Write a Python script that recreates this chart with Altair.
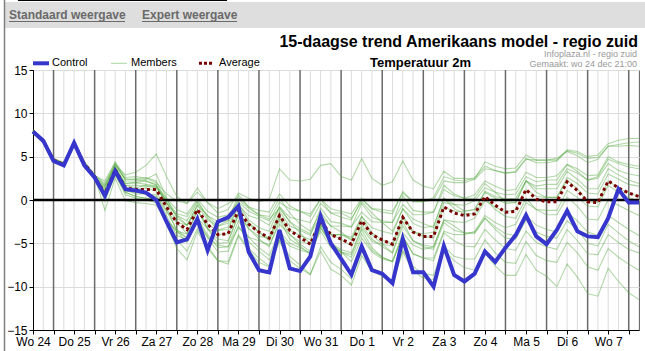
import altair as alt
import pandas as pd

FONT = "Liberation Sans"

DAY_LABELS = ["Wo 24", "Do 25", "Vr 26", "Za 27", "Zo 28", "Ma 29", "Di 30", "Wo 31",
              "Do 1", "Vr 2", "Za 3", "Zo 4", "Ma 5", "Di 6", "Wo 7"]
Y_TICKS = [-15, -10, -5, 0, 5, 10, 15]

CONTROL = [
    7.9, 6.85, 4.5, 4.0, 6.6, 4.0, 2.6, 0.5, 3.35, 1.25, 1.1, 0.85,
    0.0, -2.5, -4.9, -4.55, -2.2, -5.8, -2.5, -2.0, -0.7, -6.0, -8.1, -8.35,
    -3.45, -7.9, -8.2, -6.5, -1.85, -5.0, -6.8, -8.6, -5.35, -8.1, -8.5, -9.6,
    -4.5, -8.35, -8.35, -10.0, -5.3, -8.65, -9.4, -8.5, -5.95, -7.15, -5.5, -4.05,
    -1.75, -4.2, -5.1, -3.45, -1.25, -3.6, -4.2, -4.3, -2.1, 1.25, -0.3, -0.3,
]

AVERAGE = [
    7.9, 6.8, 4.6, 4.1, 6.5, 4.2, 2.7, 0.7, 3.5, 1.4, 1.2, 1.2,
    1.2, -0.8, -2.6, -3.4, -1.1, -2.8, -4.0, -3.9, -1.2, -2.8, -3.7, -4.4,
    -1.8, -3.5, -4.3, -5.1, -2.4, -4.0, -4.5, -5.1, -2.4, -4.0, -4.6, -5.1,
    -2.0, -3.7, -4.2, -4.2, -0.8, -1.5, -1.8, -1.6, 0.4, -0.6, -1.4, -1.3,
    1.2, 0.1, -0.2, -0.2, 2.1, 1.1, -0.2, -0.3, 2.2, 1.4, 0.8, 0.4,
]

MEMBER_01 = [
    8.0, 6.9, 4.7, 4.2, 6.6, 4.3, 2.8, 1.7, 4.1, 2.9, 3.2, 4.0,
    5.3, 2.7, 0.4, -0.4, 1.4, -0.3, -1.5, -1.1, 0.8, 0.2, -0.2, 0.1,
    3.6, 2.3, 2.2, 2.4, 4.0, 4.2, 2.7, 2.3, 4.8, 2.5, 1.7, 2.1,
    4.5, 2.3, 1.6, 1.3, 3.3, 2.5, 2.5, 2.4, 4.4, 3.9, 3.6, 3.7,
    5.2, 4.6, 4.6, 4.6, 5.8, 5.6, 5.0, 5.2, 6.5, 6.9, 7.1, 7.1,
]
MEMBER_02 = [
    7.8, 6.7, 4.5, 4.0, 6.4, 4.1, 2.6, 1.2, 3.8, 1.9, 2.0, 1.8,
    1.6, 0.2, -1.1, -1.6, 0.1, -1.3, -2.0, -1.7, -0.2, -1.3, -1.9, -2.4,
    -0.3, -1.0, -1.3, -1.6, 0.1, -1.0, -1.3, -1.6, 0.2, -1.0, -1.1, -1.3,
    0.8, -0.2, -0.2, 0.0, 2.2, 2.0, 2.0, 2.4, 3.6, 3.4, 3.1, 3.3,
    4.8, 4.3, 4.3, 4.5, 5.7, 5.4, 4.8, 4.9, 6.2, 6.2, 6.3, 6.2,
]
MEMBER_03 = [
    7.9, 6.9, 4.6, 4.0, 6.6, 4.2, 2.8, 2.2, 4.4, 2.6, 2.7, 2.5,
    2.0, 0.7, -0.1, -0.4, 0.9, -0.3, -1.0, -0.4, 0.3, -0.8, -1.7, -2.2,
    -1.0, -2.5, -3.3, -3.9, -1.9, -3.0, -3.0, -3.1, -1.4, -2.5, -2.6, -2.6,
    -0.5, -1.7, -1.7, -1.4, 1.2, 0.5, 0.2, 0.6, 2.2, 1.6, 1.1, 1.2,
    3.2, 2.6, 2.6, 2.8, 4.1, 3.3, 2.3, 2.5, 4.2, 3.4, 3.0, 2.8,
]
MEMBER_04 = [
    8.1, 7.0, 4.8, 4.3, 6.7, 4.4, 2.9, 0.4, 3.0, 0.9, 0.4, 0.2,
    0.0, -2.3, -3.6, -3.9, -1.3, -2.8, -3.5, -3.1, -0.6, -1.8, -2.2, -2.9,
    -0.8, -2.0, -2.3, -2.6, -0.4, -1.5, -1.5, -2.1, -0.2, -1.5, -2.6, -3.6,
    -1.0, -2.2, -2.7, -3.2, 0.2, -0.5, -1.3, -1.1, 1.0, 0.4, 0.1, 0.2,
    2.2, 1.6, 1.8, 1.8, 3.6, 3.1, 2.3, 2.7, 4.7, 4.2, 3.8, 3.6,
]
MEMBER_05 = [
    7.7, 6.6, 4.4, 3.9, 6.3, 4.0, 2.5, 1.5, 4.0, 2.4, 2.4, 2.6,
    2.2, -0.3, -2.6, -3.9, -1.1, -3.3, -5.0, -4.9, -1.7, -3.3, -4.5, -5.4,
    -2.3, -4.5, -5.3, -6.3, -3.2, -5.0, -5.7, -6.1, -3.2, -4.8, -5.1, -5.3,
    -2.0, -3.7, -3.9, -3.7, -0.3, -0.5, -0.6, -0.1, 1.4, 0.9, 0.6, 0.7,
    2.7, 2.1, 2.3, 2.3, 4.1, 3.6, 2.8, 2.9, 5.0, 4.4, 4.1, 3.9,
]
MEMBER_06 = [
    8.0, 6.9, 4.7, 4.2, 6.6, 4.3, 2.8, -0.1, 2.9, 0.6, 0.2, 0.0,
    -0.3, -2.3, -4.6, -5.9, -3.3, -5.3, -7.0, -7.1, -4.0, -5.6, -6.7, -7.6,
    -4.6, -6.5, -7.5, -8.6, -5.4, -7.2, -8.0, -9.1, -5.9, -7.8, -8.6, -9.3,
    -5.8, -7.7, -8.5, -8.7, -5.3, -6.5, -6.8, -6.8, -4.6, -6.1, -7.2, -7.3,
    -4.8, -6.4, -7.0, -7.2, -4.9, -6.1, -7.7, -8.1, -5.6, -6.6, -7.4, -8.1,
]
MEMBER_07 = [
    7.9, 6.8, 4.6, 4.1, 6.5, 4.2, 2.7, -1.2, 2.5, -0.1, -0.3, -0.4,
    -0.6, -2.3, -3.6, -4.4, -2.6, -4.3, -5.2, -5.4, -3.2, -4.3, -4.7, -5.2,
    -2.8, -4.0, -4.8, -5.1, -2.9, -4.0, -4.0, -4.6, -2.4, -4.0, -5.1, -6.1,
    -3.0, -4.7, -5.4, -5.7, -2.6, -3.5, -3.8, -3.8, -2.1, -3.1, -3.9, -4.1,
    -1.8, -2.9, -3.4, -3.7, -1.4, -2.4, -3.7, -4.1, -1.8, -2.6, -3.4, -4.1,
]
MEMBER_08 = [
    7.8, 6.7, 4.5, 4.0, 6.4, 4.1, 2.6, 1.0, 3.7, 1.7, 1.7, 1.6,
    1.4, 0.0, -1.6, -1.9, -0.1, -2.0, -3.5, -3.4, -0.7, -2.6, -3.7, -4.7,
    -2.0, -4.0, -5.1, -5.9, -3.2, -5.0, -6.0, -6.6, -3.9, -5.8, -6.6, -7.1,
    -4.2, -6.2, -6.7, -7.0, -3.8, -4.7, -5.3, -5.4, -3.4, -4.6, -5.6, -5.8,
    -3.6, -4.9, -5.4, -5.7, -3.4, -4.7, -6.2, -6.3, -4.0, -4.9, -5.7, -6.1,
]
MEMBER_09 = [
    8.0, 6.9, 4.7, 4.2, 6.6, 4.3, 2.8, 0.2, 3.1, 0.9, 0.4, 0.2,
    0.2, -2.8, -5.6, -6.9, -3.6, -5.6, -7.0, -7.4, -4.2, -5.8, -7.2, -7.7,
    -4.8, -7.0, -7.9, -8.6, -5.9, -8.0, -8.7, -9.8, -6.4, -8.2, -8.8, -9.5,
    -6.0, -8.2, -9.0, -9.2, -5.8, -7.0, -7.8, -8.1, -6.1, -7.6, -8.7, -8.7,
    -6.3, -8.1, -8.8, -10.0, -7.4, -8.9, -10.8, -11.1, -7.9, -9.4, -10.7, -11.5,
]
MEMBER_10 = [
    7.9, 6.8, 4.6, 4.1, 6.5, 4.2, 2.7, 1.3, 3.9, 1.7, 1.4, 1.7,
    1.5, -0.3, -1.8, -2.4, -0.3, -1.8, -2.5, -2.4, 0.1, -1.0, -1.7, -1.9,
    0.2, -1.5, -2.8, -3.6, -1.4, -3.0, -3.7, -4.6, -1.9, -3.8, -4.6, -5.1,
    -1.8, -3.7, -4.2, -4.4, -0.8, -1.3, -1.3, -1.1, 0.9, 0.2, -0.4, -0.3,
    2.2, 1.3, 1.3, 1.3, 3.3, 2.4, 1.3, 1.3, 3.6, 2.9, 2.3, 1.9,
]
MEMBER_11 = [
    7.7, 6.6, 4.4, 3.9, 6.3, 4.0, 2.5, 0.3, 3.2, 1.2, 1.2, 1.4,
    1.0, -1.3, -3.4, -4.4, -2.1, -4.0, -5.5, -5.4, -2.4, -4.3, -5.5, -6.4,
    -3.6, -5.0, -5.5, -6.1, -3.6, -5.5, -6.0, -6.3, -3.4, -5.5, -6.6, -7.1,
    -4.2, -6.2, -6.7, -6.7, -3.6, -4.0, -4.0, -3.6, -1.8, -2.6, -3.2, -2.8,
    -0.3, -1.1, -1.2, -1.2, 1.1, 0.3, -0.7, -0.8, 1.7, 0.9, 0.3, -0.1,
]
MEMBER_12 = [
    8.1, 7.0, 4.8, 4.3, 6.7, 4.4, 2.9, 1.9, 4.3, 2.2, 2.2, 2.4,
    3.0, 0.2, -2.1, -2.9, -1.1, -3.3, -4.5, -4.7, -1.7, -2.8, -3.7, -4.4,
    -1.3, -3.0, -3.5, -4.1, -0.9, -2.5, -2.7, -3.1, -0.4, -2.0, -2.4, -2.6,
    0.5, -1.2, -1.4, -1.4, 1.7, 0.7, 0.2, 0.2, 1.9, 0.9, -0.2, -0.3,
    2.2, 0.9, 0.3, 0.3, 2.3, 1.3, -0.2, -0.3, 2.2, 1.4, 0.8, 0.4,
]
MEMBER_13 = [
    7.9, 6.8, 4.6, 4.1, 6.5, 4.2, 2.7, 0.1, 3.0, 1.0, 0.9, 0.7,
    0.4, -1.3, -2.6, -2.9, -0.6, -1.8, -3.0, -2.7, -0.4, -2.3, -3.2, -3.6,
    -0.8, -2.5, -3.8, -5.1, -2.9, -5.0, -6.0, -7.1, -4.4, -6.0, -6.8, -7.1,
    -3.8, -5.2, -5.7, -5.4, -2.3, -2.5, -2.6, -2.1, -0.1, -0.8, -1.4, -1.1,
    1.2, 0.4, 0.3, 0.3, 2.6, 1.9, 0.8, 0.7, 3.0, 2.4, 1.8, 1.6,
]
MEMBER_14 = [
    7.8, 6.7, 4.5, 4.0, 6.4, 4.1, 2.6, 0.9, 3.6, 1.9, 2.0, 2.2,
    1.8, -0.8, -3.6, -4.9, -2.3, -4.3, -6.0, -5.9, -3.0, -4.8, -5.9, -6.9,
    -4.0, -5.3, -5.8, -6.1, -2.9, -4.0, -4.0, -4.3, -1.9, -3.2, -3.6, -3.9,
    -1.0, -2.7, -3.2, -3.0, 0.2, -1.0, -1.6, -1.6, 0.2, -1.1, -1.9, -2.1,
    0.2, -1.1, -1.7, -1.7, 0.3, -0.7, -2.2, -2.3, 0.0, -0.6, -1.2, -1.8,
]
MEMBER_15 = [
    8.0, 6.9, 4.7, 4.2, 6.6, 4.3, 2.8, 0.5, 3.3, 1.2, 0.7, 0.7,
    0.6, -1.8, -4.1, -4.6, -2.1, -3.3, -4.0, -3.9, -1.4, -3.3, -4.2, -4.4,
    -1.8, -3.5, -4.1, -4.6, -2.4, -4.0, -4.5, -5.3, -2.9, -4.5, -5.4, -6.1,
    -2.5, -4.7, -5.2, -5.4, -2.3, -3.0, -3.8, -3.8, -2.1, -3.4, -4.4, -4.5,
    -2.3, -3.7, -4.2, -4.4, -2.4, -3.4, -5.0, -5.3, -2.8, -3.8, -4.7, -5.4,
]
MEMBER_16 = [
    7.9, 6.8, 4.6, 4.1, 6.5, 4.2, 2.7, 1.6, 4.1, 2.4, 2.4, 2.2,
    1.7, -0.3, -1.8, -2.9, -0.6, -2.3, -3.0, -2.4, 0.6, -0.8, -1.2, -1.4,
    0.7, -0.7, -1.3, -1.9, 0.1, -1.5, -2.0, -2.3, 0.1, -1.0, -1.4, -1.6,
    1.0, -0.2, -0.2, 0.3, 2.7, 2.3, 2.2, 2.6, 3.9, 3.4, 3.1, 3.2,
    4.7, 4.6, 4.6, 4.8, 5.6, 5.1, 4.3, 4.7, 6.2, 6.4, 6.6, 6.7,
]

MEMBERS = [MEMBER_01, MEMBER_02, MEMBER_03, MEMBER_04, MEMBER_05, MEMBER_06,
           MEMBER_07, MEMBER_08, MEMBER_09, MEMBER_10, MEMBER_11, MEMBER_12,
           MEMBER_13, MEMBER_14, MEMBER_15, MEMBER_16]

N = len(CONTROL)
STEPS = list(range(N))

# ---------------- data frames ----------------
members_df = pd.DataFrame(
    [{"step": i, "value": v, "member": f"m{k}"}
     for k, vals in enumerate(MEMBERS) for i, v in enumerate(vals)]
)
control_df = pd.DataFrame({"step": STEPS, "value": CONTROL})
average_df = pd.DataFrame({"step": STEPS, "value": AVERAGE})
dark_df = pd.DataFrame({"step": [s for s in STEPS if s % 4 == 2]})
light_df = pd.DataFrame({"step": [s for s in STEPS if s % 4 != 2 and s > 0]})
zero_df = pd.DataFrame({"y": [0]})

label_arr = "[" + ",".join(f"'{d}'" for d in DAY_LABELS) + "]"

xs = alt.Scale(domain=[0, N - 1], nice=False, zero=False)
ys = alt.Scale(domain=[-15, 15], nice=False, zero=False)

x_axis = alt.Axis(
    values=[s for s in STEPS if s % 2 == 0],
    labelExpr=f"datum.value % 4 == 0 ? {label_arr}[datum.value / 4] : ''",
    title=None, grid=False, tickSize=4, tickColor="black", domainColor="black",
    labelFont=FONT, labelFontSize=12, labelColor="black", labelPadding=2,
    labelOverlap=False, labelFlush=False,
)
y_axis = alt.Axis(
    values=Y_TICKS, title=None, grid=True, gridColor="#dcdcdc", gridWidth=1,
    tickSize=4, tickColor="black", domainColor="black",
    labelFont=FONT, labelFontSize=12, labelColor="black", labelPadding=2,
    labelFlush=False,
)

X = alt.X("step:Q", scale=xs, axis=x_axis)
Y = alt.Y("value:Q", scale=ys, axis=y_axis)

light_rules = alt.Chart(light_df).mark_rule(color="#dcdcdc", strokeWidth=1).encode(x=X)
dark_rules = alt.Chart(dark_df).mark_rule(color="#6a6a6a", strokeWidth=1.5).encode(x=X)

members = alt.Chart(members_df).mark_line(
    color="#52a83f", strokeWidth=1.1, opacity=0.45
).encode(x=X, y=Y, detail="member:N")

zero_rule = alt.Chart(zero_df).mark_rule(color="black", strokeWidth=2.5).encode(
    y=alt.Y("y:Q", scale=ys, axis=y_axis)
)

average = alt.Chart(average_df).mark_line(
    color="#7a0000", strokeWidth=3, strokeDash=[3, 3]
).encode(x=X, y=Y)

control = alt.Chart(control_df).mark_line(
    color="#3636cc", strokeWidth=4
).encode(x=X, y=Y)

one = pd.DataFrame({"t": [""]})


def text_layer(txt, x, y, size, color="black", weight="normal", align="left",
               baseline="middle"):
    return alt.Chart(pd.DataFrame({"t": [txt]})).mark_text(
        align=align, baseline=baseline, fontSize=size, fontWeight=weight,
        color=color, font=FONT,
    ).encode(x=alt.value(x), y=alt.value(y), text="t:N")


def hrule(x1, x2, y, color, width, dash=None):
    kw = dict(color=color, strokeWidth=width)
    if dash:
        kw["strokeDash"] = dash
    return alt.Chart(one).mark_rule(**kw).encode(
        x=alt.value(x1), x2=alt.value(x2), y=alt.value(y)
    )


header_band = alt.Chart(one).mark_rect(color="#dedede").encode(
    x=alt.value(-28), x2=alt.value(612), y=alt.value(-68), y2=alt.value(-42)
)
top_line = hrule(-15, 194, -69.5, "black", 1)
left_line = alt.Chart(one).mark_rule(color="#808080", strokeWidth=1.5).encode(
    x=alt.value(-28.5), y=alt.value(-70), y2=alt.value(281)
)

link1 = text_layer("Standaard weergave", -24, -55, 12, "#6a6a6a", "bold")
link1_u = hrule(-24, 92, -48.5, "#6a6a6a", 1)
link2 = text_layer("Expert weergave", 109, -55, 12, "#6a6a6a", "bold")
link2_u = hrule(109, 204, -48.5, "#6a6a6a", 1)

title = text_layer("15-daagse trend Amerikaans model - regio zuid", 605, -23, 16,
                   "black", "bold", "right", "alphabetic")
src1 = text_layer("Infoplaza.nl - regio zuid", 604, -16.5, 9, "#999999", align="right")
src2 = text_layer("Gemaakt: wo 24 dec 21:00", 604, -6.5, 9, "#999999", align="right")
subtitle = text_layer("Temperatuur  2m", 387.5, -2.7, 13, "black", "bold", "center",
                      "alphabetic")

leg_c = hrule(0, 16, -6.7, "#3636cc", 4)
leg_c_t = text_layer("Control", 19, -6.7, 11)
leg_m = hrule(78, 94, -6.7, "#a9d8a0", 1)
leg_m_t = text_layer("Members", 98, -6.7, 11)
leg_a = hrule(166, 180, -6.7, "#7a0000", 3, [3, 2])
leg_a_t = text_layer("Average", 186, -6.7, 11)

chart = alt.layer(
    light_rules, dark_rules, members, zero_rule, average, control,
    header_band, top_line, left_line, link1, link1_u, link2, link2_u,
    title, src1, src2, subtitle,
    leg_c, leg_c_t, leg_m, leg_m_t, leg_a, leg_a_t,
).properties(
    width=606, height=260,
    padding={"left": 33, "top": 70, "right": 6, "bottom": 21},
    autosize=alt.AutoSizeParams(type="none"),
    background="white",
).configure_view(stroke="black", strokeWidth=1)

chart.save("out.html", embed_options={"renderer": "svg", "actions": False})
